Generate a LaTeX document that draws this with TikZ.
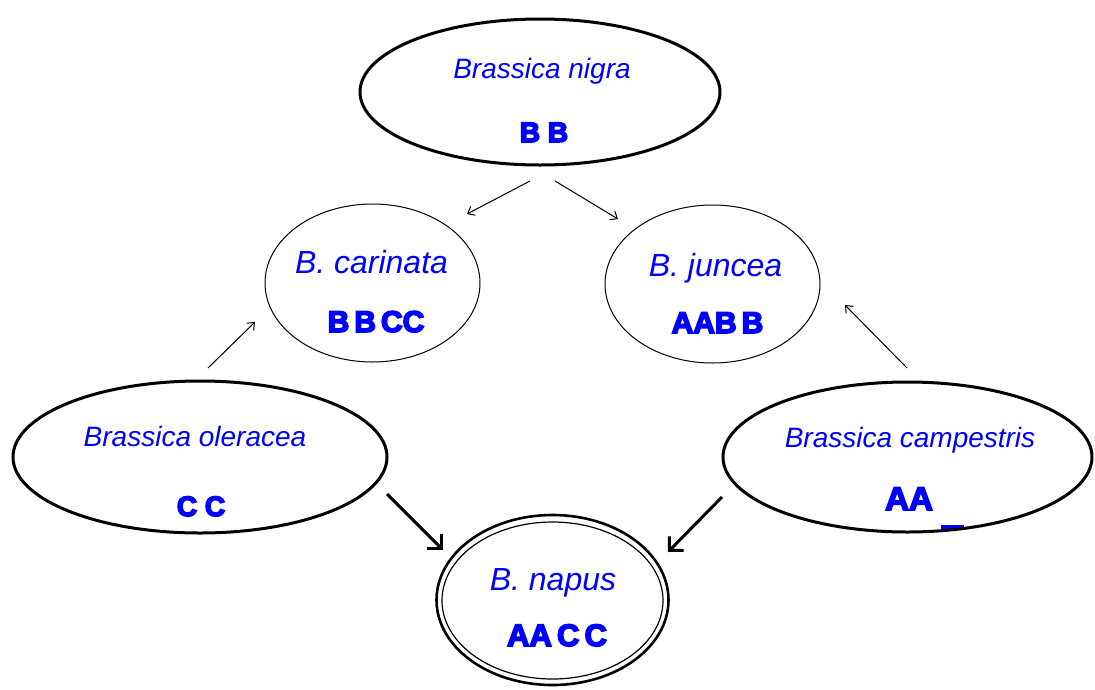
\documentclass[tikz,border=0pt]{standalone}
\usepackage{fontspec}
\setmainfont{Liberation Sans}
\usetikzlibrary{arrows.meta,shapes.geometric}
\definecolor{sblue}{RGB}{0,0,255}
\newcommand\myheavy[1]{\special{pdf:literal direct 0 0 1 RG 2 Tr 1.6 w}#1\special{pdf:literal direct 0 Tr}}
\tikzset{
  ell/.style={ellipse, draw=black, inner sep=0pt, outer sep=0pt},
  thickell/.style={ell, line width=3pt},
  thinell/.style={ell, line width=1pt},
  species/.style={anchor=base, inner sep=0pt, text=sblue, font=\itshape\fontsize{28}{30}\selectfont},
  bspecies/.style={anchor=base, inner sep=0pt, text=sblue, font=\itshape\fontsize{32}{34}\selectfont},
  genome/.style={anchor=base, inner sep=0pt, text=sblue, font=\bfseries\fontsize{#1}{#1}\selectfont},
  thinarrow/.style={line width=1pt, -{Straight Barb[length=6pt,width=10pt,line width=1pt]}},
  thickarrow/.style={line width=3pt, -{Straight Barb[length=10pt,width=20pt,line width=3pt]}}
}
\begin{document}
\begin{tikzpicture}[x=1pt,y=-1pt]
\useasboundingbox[fill=white] (0,0) rectangle (1095,689);

% small blue mark under AA
\fill[sblue] (941,524.5) rectangle (964,528.5);

% ellipses
\node[thickell, minimum width=360pt, minimum height=146pt] (nigra) at (540,92) {};
\node[thinell, minimum width=215pt, minimum height=158pt] (carinata) at (372.5,283) {};
\node[thinell, minimum width=215pt, minimum height=158pt] (juncea) at (712.5,284) {};
\node[thickell, minimum width=374pt, minimum height=152pt] (oleracea) at (200,457) {};
\node[thickell, minimum width=369pt, minimum height=150pt] (campestris) at (907.5,457) {};
\node[ell, line width=2.6pt, minimum width=232pt, minimum height=170pt] (napus) at (552.5,600) {};
\node[ell, line width=1.2pt, minimum width=221pt, minimum height=157pt] (napusin) at (552.5,600.5) {};

% texts
\node[species] (tnigra) at (542,78) {Brassica nigra};
\node[genome=28] (gnigra) at (544,142) {\myheavy{B B}};
\node[bspecies] (tcarinata) at (371.5,273) {B. carinata};
\node[genome=30] (gcarinata) at (376,332) {\myheavy{B\,B\,CC}};
\node[bspecies] (tjuncea) at (715.5,276) {B. juncea};
\node[genome=30] (gjuncea) at (717.5,333) {\myheavy{AAB\,B}};
\node[species] (toleracea) at (195,446) {Brassica oleracea};
\node[genome=28] (goleracea) at (201,516) {\myheavy{C C}};
\node[species] (tcampestris) at (910,447) {Brassica campestris};
\node[genome=33] (gcampestris) at (909,510) {\myheavy{AA}};
\node[bspecies] (tnapus) at (553,590) {B. napus};
\node[genome=31] (gnapus) at (557,646) {\myheavy{AA\,C\,C}};

% arrow end points
\coordinate (a1s) at (530,181);
\coordinate (a1e) at (467,214);
\coordinate (a2s) at (555,181);
\coordinate (a2e) at (618,219);
\coordinate (a3s) at (208,368);
\coordinate (a3e) at (255,322);
\coordinate (a4s) at (907,368);
\coordinate (a4e) at (845,305);
\coordinate (a5s) at (387,494);
\coordinate (a5e) at (443,550);
\coordinate (a6s) at (722,497);
\coordinate (a6e) at (668,552);

\draw[thinarrow] (a1s) -- (a1e);
\draw[thinarrow] (a2s) -- (a2e);
\draw[thinarrow] (a3s) -- (a3e);
\draw[thinarrow] (a4s) -- (a4e);
\draw[thickarrow] (a5s) -- (a5e);
\draw[thickarrow] (a6s) -- (a6e);
\end{tikzpicture}
\end{document}
